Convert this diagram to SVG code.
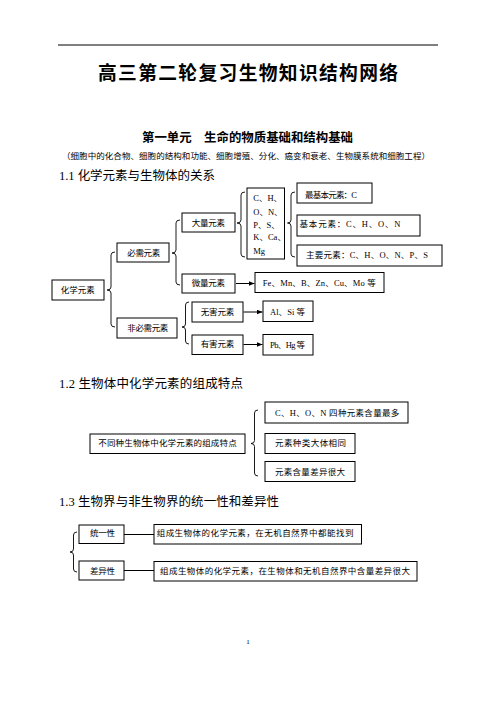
<svg xmlns="http://www.w3.org/2000/svg" width="496" height="702" viewBox="0 0 496 702">
<style>
.bx{fill:none;stroke:#000;stroke-width:1}
.ln{fill:none;stroke:#000;stroke-width:1}
.br{fill:none;stroke:#000;stroke-width:0.9}
.t{font-family:"Liberation Serif","Noto Sans CJK SC",serif;font-size:8.5px;fill:#000}
.h{font-family:"Liberation Serif","Noto Sans CJK SC",serif;font-size:12.5px;fill:#000}
.ti{font-family:"Noto Sans CJK SC",sans-serif;font-weight:bold;fill:#000}
</style>
<defs>
<marker id="ah" markerUnits="userSpaceOnUse" markerWidth="6" markerHeight="5" refX="6" refY="2.5" orient="auto" viewBox="0 0 6 5"><path d="M0,0 L6,2.5 L0,5 z" fill="#000"/></marker>
</defs>
<rect width="496" height="702" fill="#fff"/>
<line x1="58" y1="45" x2="438" y2="45" stroke="#000" stroke-width="1"/>
<text class="ti" x="248" y="79.5" font-size="18.75" text-anchor="middle" textLength="300">高三第二轮复习生物知识结构网络</text>
<text class="ti" x="247.5" y="141.5" font-size="12.4" text-anchor="middle" textLength="211">第一单元　生命的物质基础和结构基础</text>
<text class="t" x="246" y="159.1" text-anchor="middle" textLength="368">（细胞中的化合物、细胞的结构和功能、细胞增殖、分化、癌变和衰老、生物膜系统和细胞工程）</text>
<text class="h" x="59" y="180.2" textLength="156">1.1 化学元素与生物体的关系</text>
<text class="h" x="59" y="387.8" textLength="184">1.2 生物体中化学元素的组成特点</text>
<text class="h" x="59" y="506.2" textLength="220">1.3 生物界与非生物界的统一性和差异性</text>

<g id="connectors">
<path class="br" d="M115,252 Q111,252 111,255 L111,287 Q111,290 107,290 Q111,290 111,293 L111,324 Q111,327 115,327"/>
<path class="br" d="M180,220 Q176,220 176,223 L176,250 Q176,253 172,253 Q176,253 176,256 L176,282 Q176,285 180,285"/>
<path class="br" d="M245,192 Q241,192 241,195 L241,220 Q241,223 237,223 Q241,223 241,226 L241,254 Q241,257 245,257"/>
<path class="br" d="M295,192 Q291,192 291,195 L291,220 Q291,223 287.5,223 Q291,223 291,226 L291,254 Q291,257 295,257"/>
<path class="br" d="M189,302 Q185.5,302 185.5,305 L185.5,324 Q185.5,327 182,327 Q185.5,327 185.5,330 L185.5,341 Q185.5,344 189,344"/>
<path class="br" d="M258,410 Q254.5,410 254.5,413 L254.5,440.5 Q254.5,443.5 251,443.5 Q254.5,443.5 254.5,446.5 L254.5,473 Q254.5,476 258,476"/>
<path class="br" d="M77,532 Q73.5,532 73.5,535 L73.5,549 Q73.5,552 70,552 Q73.5,552 73.5,555 L73.5,569 Q73.5,572 77,572"/>
<path class="ln" d="M236,283.5 H254.5" marker-end="url(#ah)"/>
<path class="ln" d="M243.5,312 H262.5" marker-end="url(#ah)"/>
<path class="ln" d="M243.5,344.5 H262.5" marker-end="url(#ah)"/>
<path class="ln" d="M124,534.5 H154"/>
<path class="ln" d="M124,570.5 H154"/>
</g>

<g id="n-huaxue"><rect class="bx" x="52" y="280" width="52" height="20"/><text class="t" x="60.7" y="293" textLength="34">化学元素</text></g>
<g id="n-bixu"><rect class="bx" x="117" y="243" width="52" height="19"/><text class="t" x="127.3" y="256.3" textLength="33">必需元素</text></g>
<g id="n-feibixu"><rect class="bx" x="117" y="318" width="60" height="20"/><text class="t" x="127.3" y="331.3" textLength="41">非必需元素</text></g>
<g id="n-daliang"><rect class="bx" x="182" y="213" width="53" height="19"/><text class="t" x="191.7" y="225.7" textLength="33.3">大量元素</text></g>
<g id="n-weiliang"><rect class="bx" x="182" y="274" width="53" height="19"/><text class="t" x="191.7" y="286.3" textLength="33.3">微量元素</text></g>
<g id="n-wuhai"><rect class="bx" x="192" y="302" width="51" height="20"/><text class="t" x="200.7" y="315.3" textLength="33.6">无害元素</text></g>
<g id="n-youhai"><rect class="bx" x="192" y="335" width="51" height="19.5"/><text class="t" x="200.7" y="347.3" textLength="33.6">有害元素</text></g>
<g id="n-list"><rect class="bx" x="247" y="188" width="37.5" height="71"/>
<text class="t" x="253.3" y="201.3">C、H、</text>
<text class="t" x="253.3" y="214.7">O、N、</text>
<text class="t" x="253.3" y="228">P、S、</text>
<text class="t" x="253.3" y="240.3">K、Ca、</text>
<text class="t" x="253.3" y="253.7">Mg</text></g>
<g id="n-zuijiben"><rect class="bx" x="297" y="183" width="75" height="20"/><text class="t" x="305" y="198" textLength="52">最基本元素：C</text></g>
<g id="n-jiben"><rect class="bx" x="297" y="215" width="123" height="21"/><text class="t" x="299.5" y="227" textLength="101">基本元素：C、H、O、N</text></g>
<g id="n-zhuyao"><rect class="bx" x="297" y="245" width="145" height="21"/><text class="t" x="306" y="258" textLength="122">主要元素：C、H、O、N、P、S</text></g>
<g id="n-fe"><rect class="bx" x="255" y="272.5" width="129" height="20"/><text class="t" x="262.7" y="285.7" textLength="113">Fe、Mn、B、Zn、Cu、Mo 等</text></g>
<g id="n-al"><rect class="bx" x="263" y="301" width="50" height="20.5"/><text class="t" x="270" y="314.7" textLength="35">Al、Si 等</text></g>
<g id="n-pb"><rect class="bx" x="263" y="334.5" width="50" height="20.5"/><text class="t" x="270" y="347.5" textLength="35">Pb、Hg 等</text></g>

<g id="n-tedian"><rect class="bx" x="90" y="434" width="155" height="19.5"/><text class="t" x="98.3" y="446.3" textLength="138.4">不同种生物体中化学元素的组成特点</text></g>
<g id="n-chon"><rect class="bx" x="265" y="402" width="143" height="21"/><text class="t" x="275" y="416.3" textLength="124.3">C、H、O、N 四种元素含量最多</text></g>
<g id="n-zhonglei"><rect class="bx" x="265" y="433.5" width="90" height="20"/><text class="t" x="275" y="446.3" textLength="71">元素种类大体相同</text></g>
<g id="n-hanliang"><rect class="bx" x="265" y="461.5" width="90" height="20"/><text class="t" x="275" y="474.7" textLength="70">元素含量差异很大</text></g>

<g id="n-tongyi"><rect class="bx" x="79" y="525" width="45" height="18.5"/><text class="t" x="90" y="536.3" textLength="25">统一性</text></g>
<g id="n-tongyi-desc"><rect class="bx" x="154" y="524.5" width="207.5" height="19.5"/><text class="t" x="156.7" y="536.3" textLength="196.7">组成生物体的化学元素，在无机自然界中都能找到</text></g>
<g id="n-chayi"><rect class="bx" x="79" y="561" width="45" height="19"/><text class="t" x="90" y="573.7" textLength="25">差异性</text></g>
<g id="n-chayi-desc"><rect class="bx" x="154" y="561.5" width="263" height="19.5"/><text class="t" x="160" y="573.7" textLength="250">组成生物体的化学元素，在生物体和无机自然界中含量差异很大</text></g>

<text class="t" x="248" y="644" text-anchor="middle" style="font-size:7px">1</text>
</svg>
